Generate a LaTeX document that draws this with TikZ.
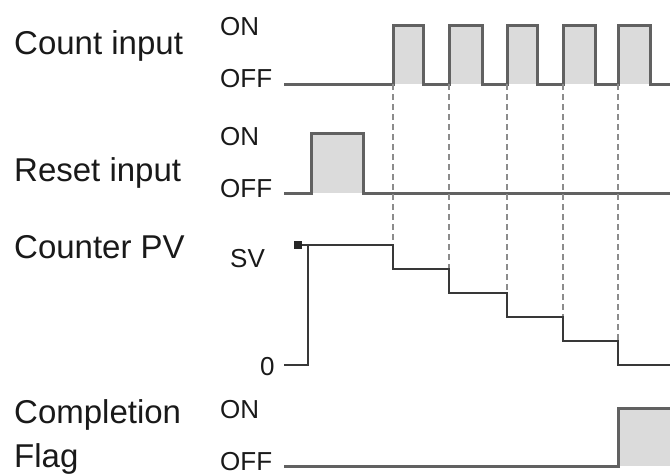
\documentclass[tikz,border=0pt]{standalone}
\usepackage{fontspec}
\setmainfont{Liberation Sans}
\begin{document}
\begin{tikzpicture}[x=1pt,y=-1pt,
  lbl/.style={font=\fontsize{33}{33}\selectfont, anchor=base west, inner sep=0pt, text=black!90},
  st/.style={font=\fontsize{26}{26}\selectfont, anchor=base west, inner sep=0pt, text=black!90},
  sig/.style={line width=3pt, draw=black!62, line join=miter},
  pulse/.style={fill=gray!28},
  pvline/.style={line width=1.4pt, draw=black!78},
  guide/.style={line width=1.6pt, draw=black!45, dash pattern=on 6pt off 4pt}]
\useasboundingbox (0,0) rectangle (670,474);
% row labels
\node[lbl] (cnt) at (14,54) {Count input};
\node[lbl] (rst) at (14,181) {Reset input};
\node[lbl] (pv) at (14,258) {Counter PV};
\node[lbl] (cmpa) at (14,423) {Completion};
\node[lbl] (cmpb) at (14,467) {Flag};
% state labels
\node[st] (con) at (220,35) {ON};
\node[st] (coff) at (220,87) {OFF};
\node[st] (ron) at (220,145) {ON};
\node[st] (roff) at (220,197) {OFF};
\node[st] (sv) at (230,267) {SV};
\node[st] (zero) at (260,375) {0};
\node[st] (fon) at (220,418) {ON};
\node[st] (foff) at (220,470) {OFF};
% count input pulses
\foreach \a/\b in {393/423,449/482,507/537,563/595,618/650}
  \fill[pulse] (\a,25) rectangle (\b,84);
\draw[sig] (284,84) -- (393,84) -- (393,25) -- (423,25) -- (423,84)
  -- (449,84) -- (449,25) -- (482,25) -- (482,84)
  -- (507,84) -- (507,25) -- (537,25) -- (537,84)
  -- (563,84) -- (563,25) -- (595,25) -- (595,84)
  -- (618,84) -- (618,25) -- (650,25) -- (650,84) -- (670,84);
% reset input
\fill[pulse] (311,133) rectangle (363,193);
\draw[sig] (284,193) -- (311,193) -- (311,133) -- (363,133) -- (363,193) -- (670,193);
% guides
\draw[guide] (393,84) -- (393,245);
\draw[guide] (449,84) -- (449,269);
\draw[guide] (507,84) -- (507,293);
\draw[guide] (563,84) -- (563,317);
\draw[guide] (618,84) -- (618,341);
% counter PV
\draw[pvline] (284,365) -- (308,365) -- (308,245);
\draw[pvline] (298,245) -- (393,245) -- (393,269) -- (449,269) -- (449,293)
  -- (507,293) -- (507,317) -- (563,317) -- (563,341) -- (618,341) -- (618,365) -- (670,365);
\fill[black!85] (294,241) rectangle (302,249);
% completion flag
\fill[pulse] (618,408) rectangle (670,466);
\draw[sig] (284,466) -- (618,466) -- (618,408) -- (670,408);
\end{tikzpicture}
\end{document}
